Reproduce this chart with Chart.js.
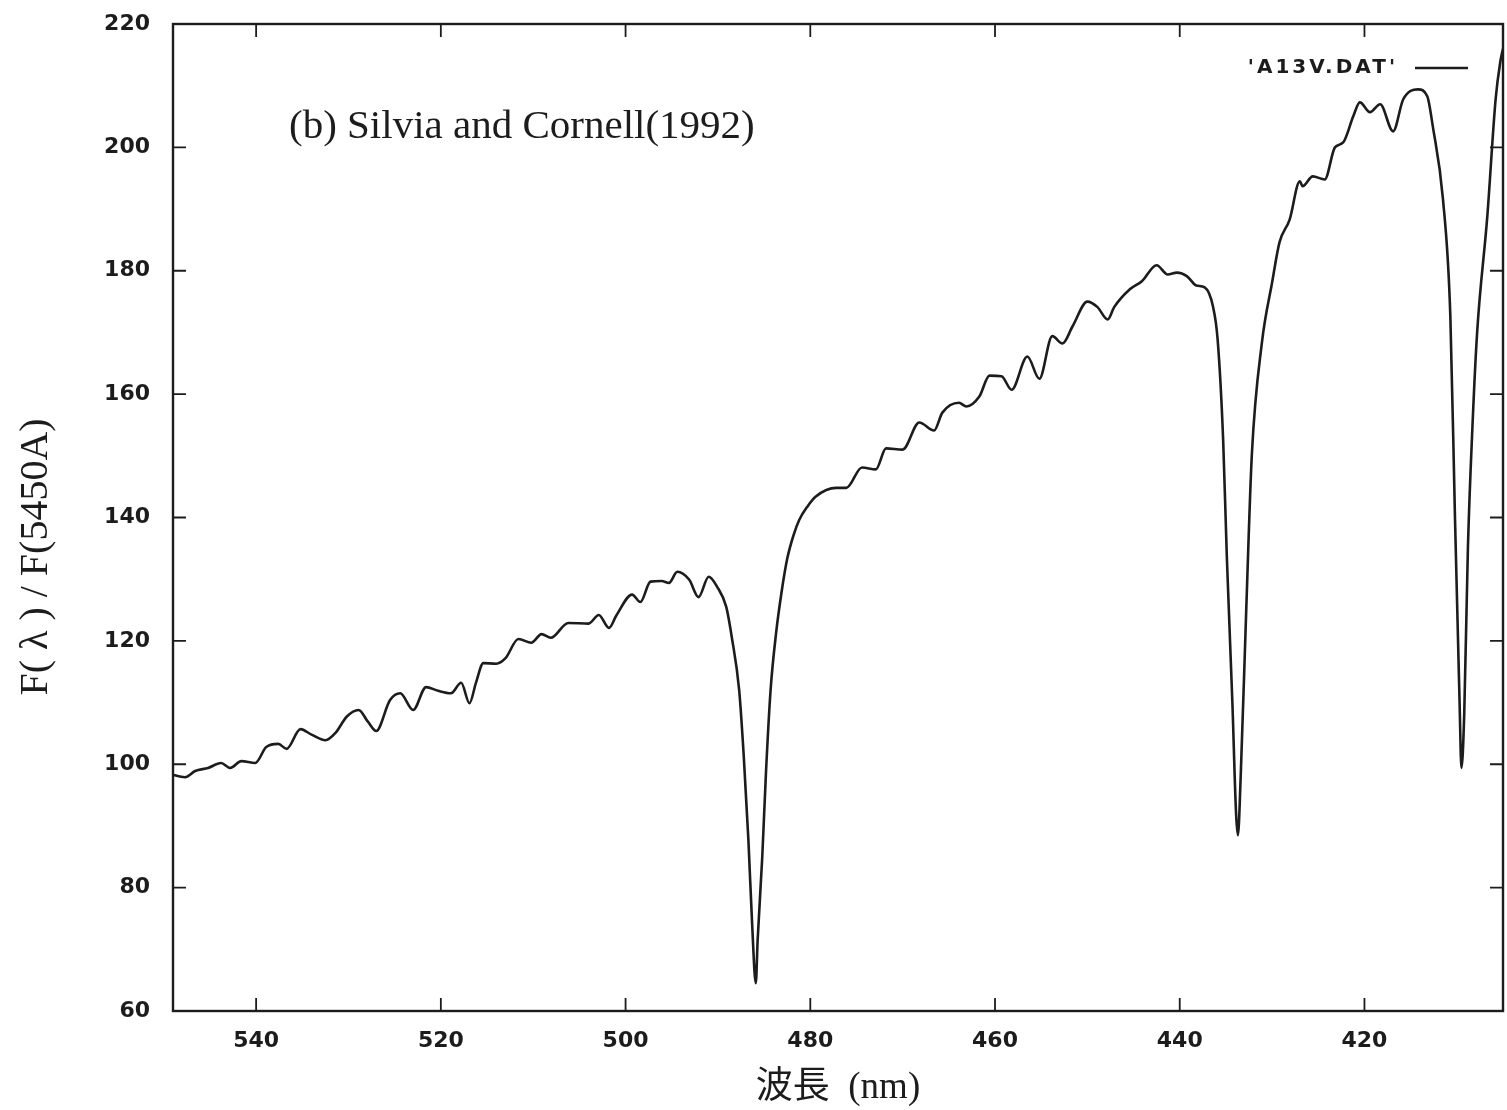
<!DOCTYPE html>
<html>
<head>
<meta charset="utf-8">
<script src="https://cdn.jsdelivr.net/npm/chart.js@4.4.1/dist/chart.umd.min.js"></script>
<style>
  html, body { margin: 0; padding: 0; background: #fff; }
  #wrap { width: 1507px; height: 1110px; }
</style>
</head>
<body>
<div id="wrap"><canvas id="spectrum"></canvas></div>
<script>
// datos: longitud de onda (nm) y flujo relativo
const wavelength = [
  549.0, 548.8, 547.7, 546.6, 545.2, 543.8, 542.8, 541.6, 540.1, 538.9,
  537.6, 536.7, 535.2, 534.0, 532.5, 531.4, 530.2, 528.9, 527.9, 527.0,
  525.5, 524.4, 523.0, 521.6, 520.3, 518.9, 517.8, 516.9, 516.2, 515.4,
  514.0, 513.0, 511.6, 510.2, 509.1, 508.1, 506.2, 504.0, 502.9, 501.8,
  501.0, 499.3, 498.4, 497.3, 496.1, 495.3, 494.4, 493.1, 492.1, 491.0,
  490.1, 489.1, 488.5, 487.7, 487.2, 486.7, 486.3, 485.9, 485.7, 485.2,
  484.8, 484.3, 483.7, 483.1, 482.5, 481.8, 481.2, 480.3, 479.4, 477.2,
  476.1, 474.4, 472.9, 471.8, 470.0, 468.2, 466.6, 465.7, 463.9, 463.1,
  461.7, 460.6, 459.3, 458.2, 456.5, 455.2, 453.8, 452.7, 451.6, 450.0,
  448.9, 447.8, 447.1, 445.4, 444.1, 442.5, 441.3, 440.3, 439.2, 438.2,
  437.3, 436.4, 435.9, 435.3, 434.9, 434.3, 433.9, 433.7, 433.4, 432.8,
  432.2, 431.1, 430.0, 429.2, 428.1, 427.0, 426.7, 425.6, 424.3, 423.2,
  422.3, 421.2, 420.5, 419.4, 418.3, 416.9, 415.8, 414.2, 413.2, 412.6,
  411.5, 410.7, 410.2, 409.7, 409.5, 409.2, 408.8, 408.3, 407.8, 406.7,
  405.8, 405.3, 405.0
]
const flux = [
  98.3, 98.2, 97.9, 98.9, 99.4, 100.2, 99.4, 100.5, 100.2, 102.8,
  103.3, 102.5, 105.7, 104.8, 103.9, 105.1, 107.7, 108.8, 106.9, 105.4,
  110.4, 111.5, 108.8, 112.5, 111.9, 111.5, 113.2, 109.9, 113.2, 116.4,
  116.3, 117.2, 120.3, 119.7, 121.1, 120.5, 122.9, 122.8, 124.2, 122.1,
  124.1, 127.5, 126.3, 129.6, 129.7, 129.4, 131.2, 129.9, 127.1, 130.4,
  128.8, 125.5, 120.6, 112.0, 101.2, 87.7, 74.2, 64.5, 71.5, 85.0,
  98.6, 112.0, 121.3, 128.0, 133.3, 137.2, 139.6, 141.8, 143.4, 144.8,
  144.8, 148.1, 147.8, 151.2, 151.0, 155.4, 154.1, 157.0, 158.6, 158.0,
  159.6, 163.0, 162.9, 160.7, 166.1, 162.5, 169.4, 168.2, 171.0, 175.0,
  174.1, 172.1, 174.1, 177.0, 178.3, 180.9, 179.4, 179.7, 179.1, 177.6,
  177.3, 174.2, 168.9, 152.6, 133.6, 110.0, 92.0, 88.5, 98.0, 125.0,
  150.0, 168.4, 178.1, 184.6, 188.3, 194.5, 193.7, 195.3, 194.8, 200.0,
  200.8, 205.1, 207.3, 205.7, 207.0, 202.6, 207.8, 209.4, 208.3, 203.4,
  191.6, 172.6, 140.0, 110.0, 99.4, 108.0, 135.0, 155.0, 170.0, 188.8,
  207.8, 213.8, 216.0
]
const xTicks = [540, 520, 500, 480, 460, 440, 420]
const yTicks = [60, 80, 100, 120, 140, 160, 180, 200, 220]

const seriesLabel = "'A13V.DAT'"
const note = '(b) Silvia and Cornell(1992)'
const xTitle = '波長  (nm)'
const yTitle = 'F( λ ) / F(5450A)'

const ink = '#1c1c1c'

// marco, marcas hacia adentro, leyenda y textos
const frameTicks = {
    id: 'frameTicks',
    afterDatasetsDraw(chart) {
        const {ctx, chartArea: a, scales: {x, y}} = chart
        const len = 13
        ctx.save()
        ctx.strokeStyle = ink
        ctx.lineWidth = 2.4
        ctx.strokeRect(a.left, a.top, a.right - a.left, a.bottom - a.top)
        ctx.lineWidth = 1.8
        ctx.beginPath()
        xTicks.forEach(v => {
            const px = x.getPixelForValue(v)
            ctx.moveTo(px, a.bottom); ctx.lineTo(px, a.bottom - len)
            ctx.moveTo(px, a.top); ctx.lineTo(px, a.top + len)
        })
        yTicks.forEach(v => {
            const py = y.getPixelForValue(v)
            ctx.moveTo(a.left, py); ctx.lineTo(a.left + len, py)
            ctx.moveTo(a.right, py); ctx.lineTo(a.right - len, py)
        })
        ctx.stroke()

        // leyenda
        ctx.fillStyle = ink
        ctx.font = 'bold 20px "DejaVu Sans"'
        ctx.letterSpacing = '3px'
        ctx.textAlign = 'right'
        ctx.textBaseline = 'middle'
        ctx.fillText(seriesLabel, 1398, 68)
        ctx.letterSpacing = '0px'
        ctx.lineWidth = 2.5
        ctx.beginPath()
        ctx.moveTo(1415, 68); ctx.lineTo(1468, 68)
        ctx.stroke()

        // nota
        ctx.font = '41px "Liberation Serif"'
        ctx.textAlign = 'left'
        ctx.fillText(note, 289, 127)

        // titulo eje y
        ctx.translate(36, 557)
        ctx.rotate(-Math.PI / 2)
        ctx.textAlign = 'center'
        ctx.font = '40px "Liberation Serif"'
        ctx.fillText(yTitle, 0, 0)
        ctx.restore()
    }
}

const ctx_spec = document.getElementById('spectrum').getContext('2d')

new Chart(ctx_spec, {
    type: 'line',
    data: {
        datasets: [{
            label: seriesLabel,
            data: wavelength.map((w, i) => ({x: w, y: flux[i]})),
            borderColor: ink,
            borderWidth: 2.6,
            pointRadius: 0,
            cubicInterpolationMode: 'monotone',
            fill: false
        }]
    },
    options: {
        responsive: true,
        maintainAspectRatio: false,
        animation: false,
        layout: {
            padding: {top: 24, right: 4, left: 0, bottom: 0}
        },
        scales: {
            x: {
                type: 'linear',
                reverse: true,
                min: 405,
                max: 549,
                afterFit: s => { s.height = 99; s.paddingLeft = 0; s.paddingRight = 0 },
                afterBuildTicks: s => { s.ticks = xTicks.map(v => ({value: v})) },
                grid: {display: false, drawTicks: false},
                border: {display: false},
                ticks: {
                    color: ink,
                    padding: 17,
                    maxRotation: 0,
                    font: {family: 'DejaVu Sans', weight: 'bold', size: 22}
                },
                title: {
                    display: true,
                    text: xTitle,
                    color: ink,
                    padding: {top: 0, bottom: 0},
                    font: {family: '"Liberation Serif", "Noto Sans CJK JP"', size: 37, lineHeight: 1.2}
                }
            },
            y: {
                min: 60,
                max: 220,
                afterFit: s => { s.width = 173; s.paddingTop = 0; s.paddingBottom = 0 },
                afterBuildTicks: s => { s.ticks = yTicks.map(v => ({value: v})) },
                grid: {display: false, drawTicks: false},
                border: {display: false},
                ticks: {
                    color: ink,
                    padding: 23,
                    font: {family: 'DejaVu Sans', weight: 'bold', size: 22}
                }
            }
        },
        plugins: {
            legend: {display: false},
            tooltip: {enabled: false}
        }
    },
    plugins: [frameTicks]
})
</script>
</body>
</html>
